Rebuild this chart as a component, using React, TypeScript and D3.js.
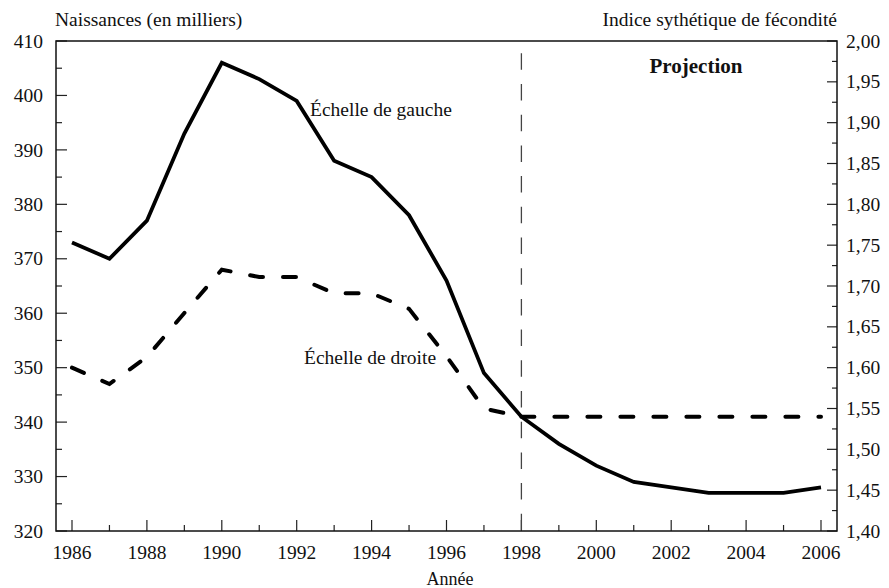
import React from "react";
import * as d3 from "d3";

const years = [1986, 1987, 1988, 1989, 1990, 1991, 1992, 1993, 1994, 1995, 1996, 1997, 1998, 1999, 2000, 2001, 2002, 2003, 2004, 2005, 2006];
const births = [373, 370, 377, 393, 406, 403, 399, 388, 385, 378, 366, 349, 341, 336, 332, 329, 328, 327, 327, 327, 328];
const tfr = [1.6, 1.58, 1.613, 1.667, 1.72, 1.711, 1.711, 1.691, 1.691, 1.672, 1.614, 1.55, 1.54, 1.54, 1.54, 1.54, 1.54, 1.54, 1.54, 1.54, 1.54];
const projectionStart = 1998;
const leftTicks = [320, 330, 340, 350, 360, 370, 380, 390, 400, 410];
const rightTicks = [1.4, 1.45, 1.5, 1.55, 1.6, 1.65, 1.7, 1.75, 1.8, 1.85, 1.9, 1.95, 2.0];
const xTickYears = [1986, 1988, 1990, 1992, 1994, 1996, 1998, 2000, 2002, 2004, 2006];

const W = 889, H = 588;
const L = 56, R = 837, T = 41, B = 531;
const FONT = "'Liberation Serif', 'Times New Roman', serif";

export default function App() {
  const x = d3.scaleLinear().domain([1986, 2006]).range([72, 821]);
  const yL = d3.scaleLinear().domain([320, 410]).range([B, T]);
  const yR = d3.scaleLinear().domain([1.4, 2.0]).range([B, T]);

  const pts = years.map((yr, i) => ({ yr, b: births[i], f: tfr[i] }));
  const solid = d3.line<any>().x(d => x(d.yr)).y(d => yL(d.b));
  const dashed = d3.line<any>().x(d => x(d.yr)).y(d => yR(d.f));
  const hist = pts.filter(p => p.yr <= projectionStart);
  const proj = pts.filter(p => p.yr >= projectionStart);

  const minorX = d3.range(1986, 2007, 1);
  const minorL = d3.range(320, 411, 5);
  const minorR = d3.range(0, 25).map(i => 1.4 + i * 0.025);
  const fmtR = (v: number) => v.toFixed(2).replace(".", ",");

  return (
    <svg width={W} height={H} style={{ position: "absolute", left: 0, top: 0, background: "#fff" }} fontFamily={FONT}>
      <rect x={0} y={0} width={W} height={H} fill="#fff" />
      {/* ticks */}
      <g stroke="#222" strokeWidth={1.2}>
        {minorX.map(v => (
          <line key={"x" + v} x1={x(v)} x2={x(v)} y1={B} y2={B - (v % 2 === 0 ? 11 : 6)} />
        ))}
        {minorL.map(v => (
          <line key={"l" + v} x1={L} x2={L + (v % 10 === 0 ? 11 : 6)} y1={yL(v)} y2={yL(v)} />
        ))}
        {minorR.map((v, i) => (
          <line key={"r" + i} x1={R} x2={R - (i % 2 === 0 ? 10 : 5)} y1={yR(v)} y2={yR(v)} />
        ))}
      </g>
      {/* frame */}
      <rect x={L} y={T} width={R - L} height={B - T} fill="none" stroke="#111" strokeWidth={1.5} />
      {/* projection divider */}
      <line x1={x(projectionStart)} x2={x(projectionStart)} y1={T + 12.3} y2={B} stroke="#444" strokeWidth={1.3} strokeDasharray="16.5,14.2" />
      {/* series */}
      <path d={solid(pts) || ""} fill="none" stroke="#000" strokeWidth={3.8} strokeLinejoin="miter" />
      <path d={dashed(hist) || ""} fill="none" stroke="#000" strokeWidth={4} strokeDasharray="13,20" strokeLinecap="round" />
      <path d={dashed(proj) || ""} fill="none" stroke="#000" strokeWidth={4} strokeDasharray="13,20" strokeLinecap="round" />
      {/* labels */}
      <g fontSize={19.5} fill="#111">
        {leftTicks.map(v => (
          <text key={"tl" + v} x={43} y={yL(v)} dy="0.34em" textAnchor="end">{v}</text>
        ))}
        {rightTicks.map((v, i) => (
          <text key={"tr" + i} x={846} y={yR(v)} dy="0.34em" textAnchor="start">{fmtR(v)}</text>
        ))}
        {xTickYears.map(v => (
          <text key={"tx" + v} x={x(v)} y={559} textAnchor="middle">{v}</text>
        ))}
        <text x={55} y={26} textAnchor="start">Naissances (en milliers)</text>
        <text x={837} y={26} textAnchor="end">Indice sythétique de fécondité</text>
        <text x={450} y={585} textAnchor="middle" fontSize={18}>Année</text>
        <text x={310} y={116} textAnchor="start">Échelle de gauche</text>
        <text x={304} y={364} textAnchor="start">Échelle de droite</text>
        <text x={696} y={73} textAnchor="middle" fontWeight="bold" fontSize={21}>Projection</text>
      </g>
    </svg>
  );
}
